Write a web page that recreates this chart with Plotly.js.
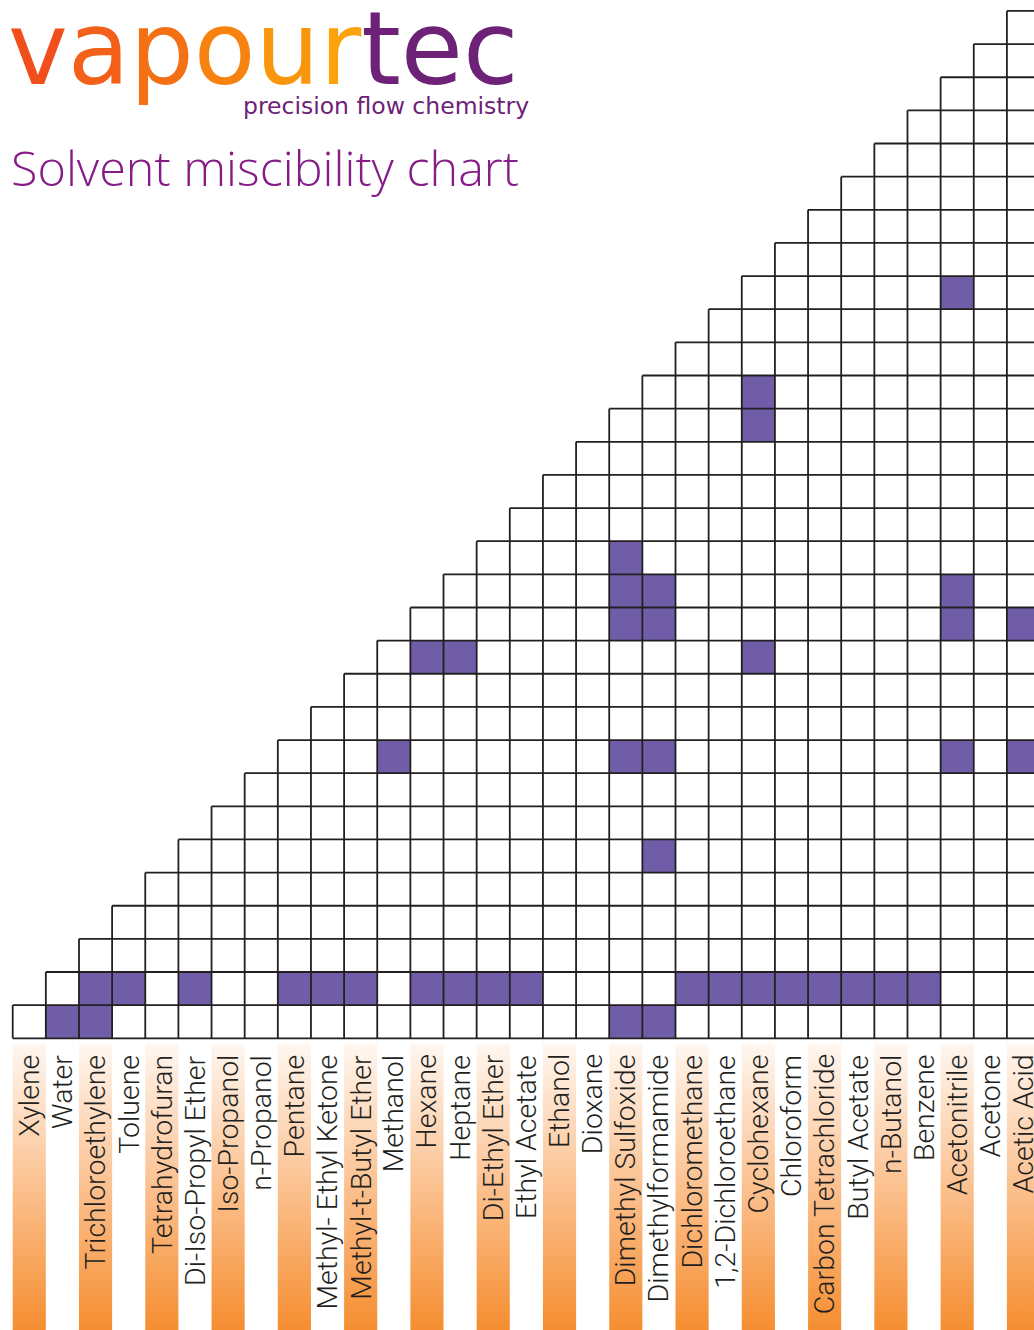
<!DOCTYPE html>
<html><head><meta charset="utf-8">
<script src="https://cdn.plot.ly/plotly-3.0.1.min.js"></script>
<style>html,body{margin:0;padding:0;background:#fff;overflow:hidden}#chart{width:1034px;height:1330px}</style>
</head><body><div id="chart"></div>
<script>
// ---- data ----
const solvents = ['Xylene','Water','Trichloroethylene','Toluene','Tetrahydrofuran','Di-Iso-Propyl Ether',
  'Iso-Propanol','n-Propanol','Pentane','Methyl- Ethyl Ketone','Methyl-t-Butyl Ether','Methanol','Hexane',
  'Heptane','Di-Ethyl Ether','Ethyl Acetate','Ethanol','Dioxane','Dimethyl Sulfoxide','Dimethylformamide',
  'Dichloromethane','1,2-Dichloroethane','Cyclohexane','Chloroform','Carbon Tetrachloride','Butyl Acetate',
  'n-Butanol','Benzene','Acetonitrile','Acetone','Acetic Acid'];

// immiscible pairs (row solvent, column solvent)
const immisciblePairs = [
  ['Xylene','Water'],['Xylene','Trichloroethylene'],['Xylene','Dimethyl Sulfoxide'],['Xylene','Dimethylformamide'],
  ['Water','Trichloroethylene'],['Water','Toluene'],['Water','Di-Iso-Propyl Ether'],['Water','Pentane'],
  ['Water','Methyl- Ethyl Ketone'],['Water','Methyl-t-Butyl Ether'],['Water','Hexane'],['Water','Heptane'],
  ['Water','Di-Ethyl Ether'],['Water','Ethyl Acetate'],['Water','Dichloromethane'],['Water','1,2-Dichloroethane'],
  ['Water','Cyclohexane'],['Water','Chloroform'],['Water','Carbon Tetrachloride'],['Water','Butyl Acetate'],
  ['Water','n-Butanol'],['Water','Benzene'],
  ['Di-Iso-Propyl Ether','Dimethylformamide'],
  ['Pentane','Methanol'],['Pentane','Dimethyl Sulfoxide'],['Pentane','Dimethylformamide'],['Pentane','Acetonitrile'],['Pentane','Acetic Acid'],
  ['Methanol','Hexane'],['Methanol','Heptane'],['Methanol','Cyclohexane'],
  ['Hexane','Dimethyl Sulfoxide'],['Hexane','Dimethylformamide'],['Hexane','Acetonitrile'],['Hexane','Acetic Acid'],
  ['Heptane','Dimethyl Sulfoxide'],['Heptane','Dimethylformamide'],['Heptane','Acetonitrile'],
  ['Di-Ethyl Ether','Dimethyl Sulfoxide'],
  ['Dimethyl Sulfoxide','Cyclohexane'],['Dimethylformamide','Cyclohexane'],
  ['Cyclohexane','Acetonitrile']
];

const shadedLabels = ['Xylene','Trichloroethylene','Tetrahydrofuran','Iso-Propanol','Pentane','Methyl-t-Butyl Ether',
  'Hexane','Di-Ethyl Ether','Ethanol','Dimethyl Sulfoxide','Dichloromethane','Cyclohexane','Carbon Tetrachloride',
  'n-Butanol','Acetonitrile','Acetic Acid'];

// ---- build ----
const n = solvents.length;
const idx = {};
solvents.forEach((s, i) => idx[s] = i);
const pos = solvents.map((s, i) => i);

const z = [];
for (let r = 0; r < n; r++) {
  const row = [];
  for (let c = 0; c < n; c++) row.push(c >= r ? 0 : null);
  z.push(row);
}
immisciblePairs.forEach(([a, b]) => {
  const r = Math.min(idx[a], idx[b]), c = Math.max(idx[a], idx[b]);
  z[r][c] = 1;
});

const PURPLE = '#6f5da8';
const INK = '#231f20';

const traces = [];
// label strips with vertical gradient
const stripTop = -0.66, stripBottom = -9.6;
shadedLabels.forEach(s => {
  const j = idx[s];
  traces.push({
    type: 'scatter', mode: 'lines', hoverinfo: 'skip', showlegend: false,
    x: [j - 0.5, j + 0.5, j + 0.5, j - 0.5, j - 0.5],
    y: [stripTop, stripTop, stripBottom, stripBottom, stripTop],
    fill: 'toself', line: {width: 0},
    fillgradient: {type: 'vertical', colorscale: [[0, '#f58a2a'], [0.5, '#fbbf8c'], [1, '#fff7f1']]}
  });
});

traces.push({
  type: 'heatmap', x: pos, y: pos, z: z, zmin: 0, zmax: 1,
  colorscale: [[0, '#ffffff'], [1, PURPLE]], showscale: false, hoverinfo: 'skip'
});

// grid lines of the triangle
const gx = [], gy = [];
for (let k = 0; k <= n; k++) {
  gx.push(Math.max(k - 1, 0) - 0.5, n - 0.5, null);
  gy.push(k - 0.5, k - 0.5, null);
}
for (let j = 0; j <= n; j++) {
  gx.push(j - 0.5, j - 0.5, null);
  gy.push(-0.5, Math.min(j, n - 1) + 0.5, null);
}
traces.push({
  type: 'scatter', mode: 'lines', x: gx, y: gy, hoverinfo: 'skip', showlegend: false,
  line: {color: INK, width: 1.8}
});

const annotations = solvents.map((s, i) => ({
  x: i, y: -0.93, xref: 'x', yref: 'y', text: s, textangle: -90,
  xanchor: 'center', yanchor: 'top', showarrow: false,
  font: {family: 'Roboto, Liberation Sans, sans-serif', size: 28.5, color: INK, weight: 300}
}));

const logoColors = ['#f04f1c', '#f2601a', '#f47015', '#f78210', '#fa960d', '#fca30b'];
const logo = 'vapour'.split('').map((ch, i) => `<span style="color:${logoColors[i]}">${ch}</span>`).join('') +
  '<span style="color:#6d2177">tec</span>';
annotations.push({
  xref: 'paper', yref: 'paper', x: 6 / 1034, y: 1 - 110 / 1330, xanchor: 'left', yanchor: 'bottom',
  text: logo, showarrow: false, font: {family: 'DejaVu Sans', size: 101}
});
annotations.push({
  xref: 'paper', yref: 'paper', x: 531 / 1034, y: 1 - 122 / 1330, xanchor: 'right', yanchor: 'bottom',
  text: 'precision flow chemistry', showarrow: false,
  font: {family: 'DejaVu Sans', size: 23.5, color: '#6d2177'}
});
annotations.push({
  xref: 'paper', yref: 'paper', x: 9 / 1034, y: 1 - 132 / 1330, xanchor: 'left', yanchor: 'top',
  text: 'Solvent miscibility chart', showarrow: false,
  font: {family: 'Open Sans', size: 48.5, color: '#861c88', weight: 300}
});

const U = 33.14, X0 = 12.7, Y0 = 1038.3;
const layout = {
  width: 1034, height: 1330, margin: {l: 0, r: 0, t: 0, b: 0},
  paper_bgcolor: '#ffffff', plot_bgcolor: '#ffffff', showlegend: false,
  xaxis: {range: [-0.5 - X0 / U, -0.5 + (1034 - X0) / U], visible: false, fixedrange: true},
  yaxis: {range: [-0.5 - (1330 - Y0) / U, -0.5 + Y0 / U], visible: false, fixedrange: true},
  annotations: annotations
};
Plotly.newPlot('chart', traces, layout, {displayModeBar: false, staticPlot: true});
</script></body></html>
